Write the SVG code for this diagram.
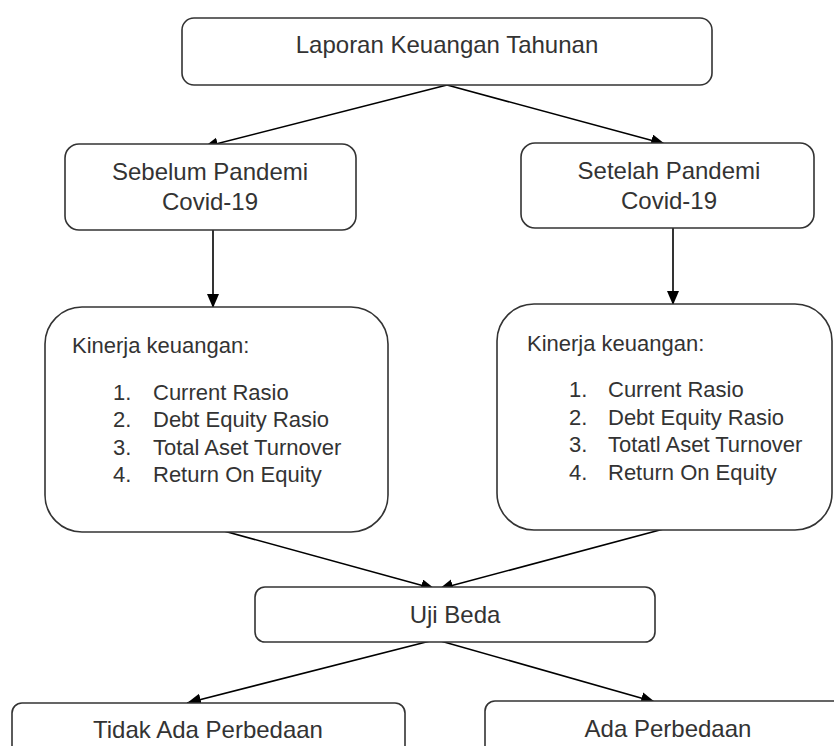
<svg xmlns="http://www.w3.org/2000/svg" width="834" height="746" viewBox="0 0 834 746">
<defs>
<marker id="arr" markerUnits="userSpaceOnUse" markerWidth="16" markerHeight="14" refX="14" refY="6" orient="auto">
<path d="M0,0 L14,6 L0,12 z" fill="#000"/>
</marker>
<style>
.box{fill:#fff;stroke:#333;stroke-width:1.6}
.t{font-family:"Liberation Sans",Arial,sans-serif;fill:#333}
.c{text-anchor:middle;font-size:24px}
.k{font-size:22px}
.ln{stroke:#000;stroke-width:1.6;fill:none;marker-end:url(#arr)}
</style>
</defs>
<rect width="834" height="746" fill="#fff"/>
<g id="connectors">
<line class="ln" x1="447" y1="85" x2="204" y2="147"/>
<line class="ln" x1="447" y1="85" x2="665" y2="144"/>
<line class="ln" x1="213" y1="222" x2="213" y2="308"/>
<line class="ln" x1="673" y1="222" x2="673" y2="305"/>
<line class="ln" x1="213" y1="528" x2="435" y2="589"/>
<line class="ln" x1="686" y1="523" x2="439" y2="589"/>
<line class="ln" x1="434" y1="640" x2="187" y2="703"/>
<line class="ln" x1="437" y1="640" x2="655" y2="702"/>
</g>
<g id="laporan">
<rect class="box" x="182" y="18" width="530" height="67" rx="12"/>
<text class="t c" x="447" y="53">Laporan Keuangan Tahunan</text>
</g>
<g id="sebelum">
<rect class="box" x="65" y="144" width="291" height="86" rx="14"/>
<text class="t c" x="210" y="180">Sebelum Pandemi</text>
<text class="t c" x="210" y="210">Covid-19</text>
</g>
<g id="setelah">
<rect class="box" x="521" y="143" width="293" height="85" rx="14"/>
<text class="t c" x="669" y="179">Setelah Pandemi</text>
<text class="t c" x="669" y="209">Covid-19</text>
</g>
<g id="kinerja-sebelum">
<rect class="box" x="45" y="307" width="343" height="225" rx="37"/>
<text class="t k" x="72" y="353">Kinerja keuangan:</text>
<text class="t k" x="113" y="400">1.</text><text class="t k" x="153" y="400">Current Rasio</text>
<text class="t k" x="113" y="427">2.</text><text class="t k" x="153" y="427">Debt Equity Rasio</text>
<text class="t k" x="113" y="455">3.</text><text class="t k" x="153" y="455">Total Aset Turnover</text>
<text class="t k" x="113" y="482">4.</text><text class="t k" x="153" y="482">Return On Equity</text>
</g>
<g id="kinerja-setelah">
<rect class="box" x="497" y="304" width="335" height="226" rx="37"/>
<text class="t k" x="527" y="351">Kinerja keuangan:</text>
<text class="t k" x="569" y="397">1.</text><text class="t k" x="608" y="397">Current Rasio</text>
<text class="t k" x="569" y="425">2.</text><text class="t k" x="608" y="425">Debt Equity Rasio</text>
<text class="t k" x="569" y="452">3.</text><text class="t k" x="608" y="452">Totatl Aset Turnover</text>
<text class="t k" x="569" y="480">4.</text><text class="t k" x="608" y="480">Return On Equity</text>
</g>
<g id="uji-beda">
<rect class="box" x="255" y="587" width="400" height="55" rx="10"/>
<text class="t c" x="455" y="623">Uji Beda</text>
</g>
<g id="tidak-ada">
<rect class="box" x="12" y="703" width="393" height="70" rx="10"/>
<text class="t c" x="208" y="738">Tidak Ada Perbedaan</text>
</g>
<g id="ada">
<rect class="box" x="485" y="701" width="370" height="70" rx="10"/>
<text class="t c" x="668" y="737">Ada Perbedaan</text>
</g>
</svg>
